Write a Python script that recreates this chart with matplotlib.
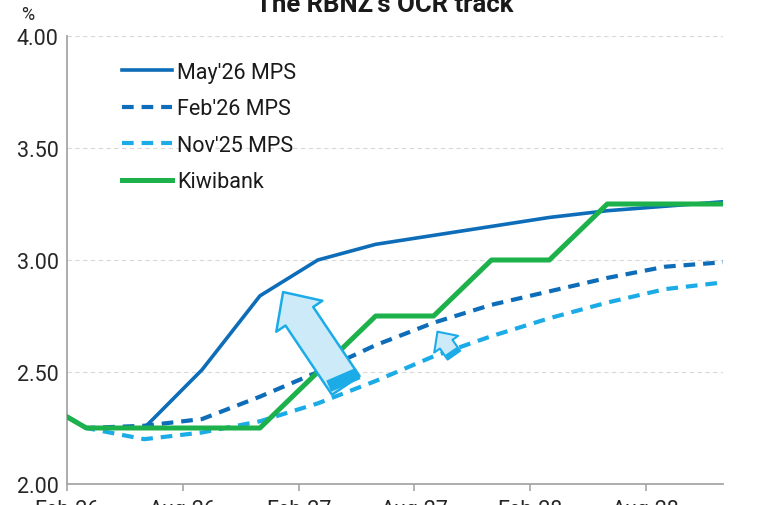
import matplotlib
matplotlib.use("Agg")
import matplotlib.pyplot as plt
import pandas as pd

# ---- data ----
periods = ["2026-02", "2026-03", "2026-06", "2026-09", "2026-12", "2027-03", "2027-06",
           "2027-09", "2027-12", "2028-03", "2028-06", "2028-09", "2028-12"]
may26_mps = [2.30, 2.25, 2.25, 2.51, 2.84, 3.00, 3.07, 3.11, 3.15, 3.19, 3.22, 3.24, 3.26]
feb26_mps = [2.30, 2.25, 2.26, 2.29, 2.39, 2.50, 2.62, 2.72, 2.80, 2.86, 2.92, 2.97, 2.99]
nov25_mps = [2.30, 2.25, 2.20, 2.23, 2.28, 2.36, 2.46, 2.57, 2.66, 2.74, 2.81, 2.87, 2.90]
kiwibank  = [2.30, 2.25, 2.25, 2.25, 2.25, 2.50, 2.75, 2.75, 3.00, 3.00, 3.25, 3.25, 3.25]
tick_labels = ["Feb-26", "Aug-26", "Feb-27", "Aug-27", "Feb-28", "Aug-28"]
y_ticks = [2.00, 2.50, 3.00, 3.50, 4.00]

start = pd.Period("2026-02", freq="M")
x = [(pd.Period(p, freq="M") - start).n for p in periods]
tick_pos = [(pd.Period(pd.to_datetime(t, format="%b-%y"), freq="M") - start).n for t in tick_labels]

DARK = "#0D6DB8"
LIGHT = "#1BACE8"
GREEN = "#1DB14B"
FONT = ["Roboto", "DejaVu Sans"]

fig = plt.figure(figsize=(7.68, 5.06), dpi=100)
ax = fig.add_axes([67/768, 21/506, 656/768, 448/506])

ax.plot(x, may26_mps, color=DARK, lw=2.6, label="May'26 MPS", zorder=4)
ax.plot(x, feb26_mps, color=DARK, lw=3.0, ls=(0, (2.8, 1.9)), label="Feb'26 MPS", zorder=3)
ax.plot(x, nov25_mps, color=LIGHT, lw=3.0, ls=(0, (2.8, 1.9)), label="Nov'25 MPS", zorder=3)
ax.plot(x, kiwibank, color=GREEN, lw=3.6, label="Kiwibank", zorder=5)

ax.set_xlim(0, 34)
ax.set_ylim(2.0, 4.0)
ax.set_yticks(y_ticks)
ax.set_yticklabels([f"{v:.2f}" for v in y_ticks], fontsize=15.5, family=FONT, color="#262626")
ax.set_xticks(tick_pos)
ax.set_xticklabels(tick_labels, fontsize=15.5, family=FONT, color="#262626")
ax.tick_params(axis="y", length=0, pad=6)
ax.tick_params(axis="x", length=5, width=1.2, color="#a6a6a6", pad=6)

for s in ["top", "right"]:
    ax.spines[s].set_visible(False)
for s in ["left", "bottom"]:
    ax.spines[s].set_color("#a6a6a6")
    ax.spines[s].set_linewidth(1.3)

ax.yaxis.grid(True, color="#d9d9d9", ls=(0, (4, 3)), lw=0.8)
ax.set_axisbelow(True)

# arrows
ax.annotate("", xy=(11.2, 2.857), xytext=(14.45, 2.44),
            arrowprops=dict(arrowstyle="simple,head_length=2.1,head_width=4.0,tail_width=2.4",
                            fc="#cdeaf9", ec=LIGHT, lw=1.8, mutation_scale=10,
                            shrinkA=0, shrinkB=0), zorder=6)
ax.annotate("", xy=(14.2, 2.49), xytext=(14.45, 2.44),
            arrowprops=dict(arrowstyle="-", color=LIGHT, lw=23, capstyle="butt",
                            shrinkA=0, shrinkB=0), zorder=6)

ax.annotate("", xy=(19.2, 2.68), xytext=(20.05, 2.575),
            arrowprops=dict(arrowstyle="simple,head_length=1.1,head_width=2.1,tail_width=1.1",
                            fc="#cdeaf9", ec=LIGHT, lw=1.5, mutation_scale=10,
                            shrinkA=0, shrinkB=0), zorder=6)
ax.annotate("", xy=(19.9, 2.594), xytext=(20.05, 2.575),
            arrowprops=dict(arrowstyle="-", color=LIGHT, lw=10, capstyle="butt",
                            shrinkA=0, shrinkB=0), zorder=6)

leg = ax.legend(loc="upper left", bbox_to_anchor=(122/768, 1 - 63/506),
                bbox_transform=fig.transFigure, frameon=False, borderpad=0,
                borderaxespad=0, handlelength=2.3, handletextpad=0.25,
                labelspacing=0.72, prop={"family": FONT, "size": 15.5})
for t in leg.get_texts():
    t.set_color("#1a1a1a")

fig.text(385/768, 1 - 12/506, "The RBNZ's OCR track", ha="center", va="baseline",
         fontsize=18.5, fontweight="bold", family=FONT, color="#1a1a1a")
fig.text(28/768, 1 - 15/506, "%", ha="center", va="center", fontsize=13,
         family=FONT, color="#262626")

fig.savefig("out.png", dpi=100)
